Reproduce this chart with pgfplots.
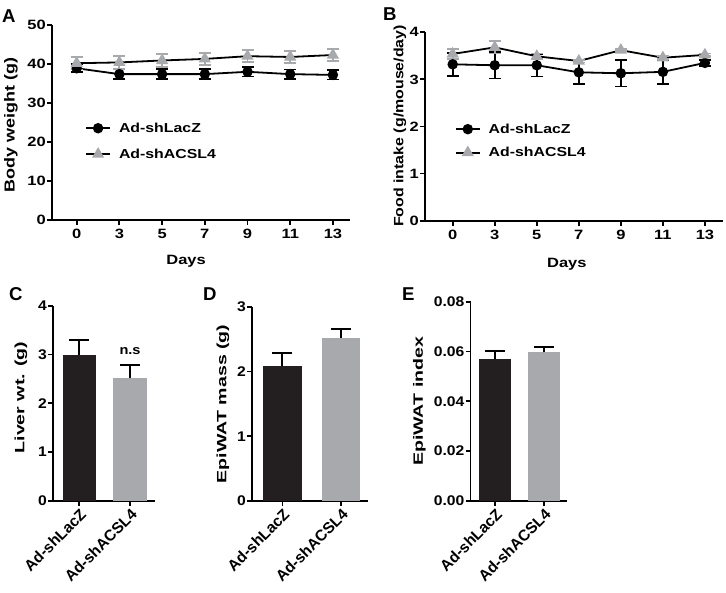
\documentclass[border=0pt]{standalone}
\usepackage{pgfplots}
\pgfplotsset{compat=1.18}
\usepackage{pgfplotstable}
\usepackage{fontspec}
\setmainfont{Liberation Sans}[UprightFont=* Bold]
\newfontfamily\Ftop{Liberation Sans}[UprightFont=* Bold, FakeStretch=1.22]
\newfontfamily\FtopA{Liberation Sans}[UprightFont=* Bold, FakeStretch=1.24]
\newfontfamily\FtopB{Liberation Sans}[UprightFont=* Bold, FakeStretch=1.18]
\newfontfamily\Fbot{Liberation Sans}[UprightFont=* Bold, FakeStretch=1.12]
\newfontfamily\Fbotlab{Liberation Sans}[UprightFont=* Bold, FakeStretch=1.45]
\newfontfamily\Fletter{Liberation Sans}[UprightFont=* Bold]

\definecolor{darkc}{HTML}{231F20}
\definecolor{grayc}{HTML}{A7A9AC}

\pgfplotstableread{
x day lacz laczerr acsl acslerr
0 0 38.9 1.0 40.2 1.6
1 3 37.4 1.3 40.4 1.6
2 5 37.4 1.3 40.9 1.6
3 7 37.4 1.3 41.3 1.5
4 9 38.0 1.2 42.0 1.5
5 11 37.4 1.2 41.8 1.6
6 13 37.2 1.2 42.3 1.5
}\bodyweight

\pgfplotstableread{
x day lacz laczerr acsl acslerr
0 0 3.32 0.24 3.54 0.10
1 3 3.30 0.28 3.68 0.13
2 5 3.30 0.24 3.49 0.06
3 7 3.15 0.25 3.39 0.03
4 9 3.13 0.28 3.62 0.02
5 11 3.16 0.25 3.46 0.03
6 13 3.35 0.07 3.52 0.03
}\food

\pgfplotsset{
  panel/.style={
    scale only axis, anchor=south west,
    axis x line=bottom, axis y line=left,
    axis line style={-, line width=1.8pt, black},
    tick align=outside, major tick length=5pt,
    tick style={line width=1.8pt, black},
    /pgf/number format/assume math mode=true,
    clip=false, minor tick num=0,
  },
  toppanel/.style={
    panel,
    xtick={0,...,6}, xticklabels={0,3,5,7,9,11,13},
    tick label style={font=\fontsize{13.5}{15}\Ftop},
    yticklabel style={inner sep=1pt},
    xticklabel style={inner sep=0pt, yshift=-4pt},
    legend style={draw=none, fill=none, font=\fontsize{13}{15}\Ftop, cells={anchor=west}, column sep=6pt},
    legend image code/.code={\draw[mark repeat=2,mark phase=2,##1] plot coordinates {(0pt,0pt) (12pt,0pt) (24pt,0pt)};},
  },
  botpanel/.style={
    panel,
    xtick={0,1}, xticklabels={Ad-shLacZ, Ad-shACSL4},
    xticklabel style={rotate=45, anchor=north east, inner sep=1pt, font=\fontsize{15.5}{17}\selectfont},
    yticklabel style={inner sep=1pt, font=\fontsize{14}{16}\Fbot},
    ylabel style={font=\fontsize{13.5}{15}\Fbotlab, anchor=center},
  },
  lzline/.style={black, line width=1.8pt, mark=*, mark size=4.3pt, mark options={fill=black, draw=black},
    error bars/.cd, y dir=both, y explicit,
    error bar style={black, line width=1.8pt},
    error mark options={black, rotate=90, mark size=6pt, line width=1.8pt}},
  acline/.style={black, line width=1.8pt, mark=triangle*, mark size=5.3pt, mark options={fill=grayc, draw=grayc},
    error bars/.cd, y dir=both, y explicit,
    error bar style={grayc, line width=1.8pt},
    error mark options={grayc, rotate=90, mark size=6pt, line width=1.8pt}},
  barerr/.style={error bars/.cd, y dir=plus, y explicit,
    error bar style={black, line width=2pt},
    error mark options={black, rotate=90, mark size=10pt, line width=2pt}},
}

\begin{document}
\begin{tikzpicture}[x=1pt,y=1pt]
\path[use as bounding box] (0,0) rectangle (726,593);

% panel letters
\node[anchor=base west, inner sep=0pt, font=\fontsize{18.6}{20}\Fletter] at (2,570.3) {A};
\node[anchor=base west, inner sep=0pt, font=\fontsize{18.6}{20}\Fletter] at (383,572.3) {B};
\node[anchor=base west, inner sep=0pt, font=\fontsize{18.6}{20}\Fletter] at (9,292) {C};
\node[anchor=base west, inner sep=0pt, font=\fontsize{18.6}{20}\Fletter] at (203,292) {D};
\node[anchor=base west, inner sep=0pt, font=\fontsize{18.6}{20}\Fletter] at (402,292) {E};

% ---------- A ----------
\begin{axis}[toppanel, at={(52pt,373pt)}, width=298pt, height=195pt,
  xmin=-0.578, xmax=6.4, ymin=0, ymax=50, ytick={0,10,...,50},
  xlabel={Days}, xlabel style={font=\fontsize{13.5}{15}\Ftop, at={(axis description cs:0.45,0)}, anchor=base, yshift=-45pt},
  ylabel={Body weight (g)}, ylabel style={font=\fontsize{14.5}{16}\FtopA, at={(axis description cs:-0.1376,0.487)}, anchor=center},
  legend style={at={(axis description cs:0.1007,0.52)}, anchor=north west, row sep=11pt},
]
\addplot+[lzline] table[x=x, y=lacz, y error=laczerr] {\bodyweight};
\addlegendentry{Ad-shLacZ}
\addplot+[acline] table[x=x, y=acsl, y error=acslerr] {\bodyweight};
\addlegendentry{Ad-shACSL4}
\end{axis}

% ---------- B ----------
\begin{axis}[toppanel, at={(425pt,372.3pt)}, width=298pt, height=188.4pt,
  xmin=-0.659, xmax=6.43, ymin=0, ymax=4, ytick={0,1,2,3,4},
  xlabel={Days}, xlabel style={font=\fontsize{13.5}{15}\Ftop, at={(axis description cs:0.476,0)}, anchor=base, yshift=-47pt},
  ylabel={Food intake (g/mouse/day)}, ylabel style={font=\fontsize{13.5}{15}\FtopB, at={(axis description cs:-0.084,0.503)}, anchor=center},
  legend style={at={(axis description cs:0.0896,0.537)}, anchor=north west, row sep=8.5pt},
]
\addplot+[lzline] table[x=x, y=lacz, y error=laczerr] {\food};
\addlegendentry{Ad-shLacZ}
\addplot+[acline] table[x=x, y=acsl, y error=acslerr] {\food};
\addlegendentry{Ad-shACSL4}
\end{axis}

% ---------- C ----------
\begin{axis}[botpanel, at={(53pt,92pt)}, width=102pt, height=195.3pt,
  xmin=-0.515, xmax=1.49, ymin=0, ymax=4, ytick={0,1,2,3,4},
  ylabel={Liver wt. (g)}, ylabel style={at={(axis description cs:-0.314,0.53)}},
]
\addplot[ybar, bar width=0.656, bar shift=0pt, fill=darkc, draw=none, barerr] coordinates {(0,3.00) +- (0,0.30)};
\addplot[ybar, bar width=0.656, bar shift=0pt, fill=grayc, draw=none, barerr] coordinates {(1,2.52) +- (0,0.26)};
\node[font=\fontsize{13}{15}\Fbot] at (axis cs:1,3.07) {n.s};
\end{axis}

% ---------- D ----------
\begin{axis}[botpanel, at={(252pt,92pt)}, width=116pt, height=194.3pt,
  xmin=-0.52, xmax=1.46, ymin=0, ymax=3, ytick={0,1,2,3},
  ylabel={EpiWAT mass (g)}, ylabel style={at={(axis description cs:-0.25,0.50)}},
]
\addplot[ybar, bar width=0.655, bar shift=0pt, fill=darkc, draw=none, barerr] coordinates {(0,2.09) +- (0,0.19)};
\addplot[ybar, bar width=0.655, bar shift=0pt, fill=grayc, draw=none, barerr] coordinates {(1,2.52) +- (0,0.13)};
\end{axis}

% ---------- E ----------
\begin{axis}[botpanel, at={(470.5pt,92pt)}, width=96.5pt, height=199.3pt,
  xmin=-0.504, xmax=1.475, ymin=0, ymax=0.08, ytick={0,0.02,0.04,0.06,0.08},
  yticklabel style={/pgf/number format/.cd, fixed, fixed zerofill, precision=2},
  scaled y ticks=false,
  ylabel={EpiWAT index}, ylabel style={at={(axis description cs:-0.53,0.50)}},
]
\addplot[ybar, bar width=0.667, bar shift=0pt, fill=darkc, draw=none, barerr] coordinates {(0,0.0569) +- (0,0.0034)};
\addplot[ybar, bar width=0.667, bar shift=0pt, fill=grayc, draw=none, barerr] coordinates {(1,0.0597) +- (0,0.0020)};
\end{axis}
\end{tikzpicture}
\end{document}
